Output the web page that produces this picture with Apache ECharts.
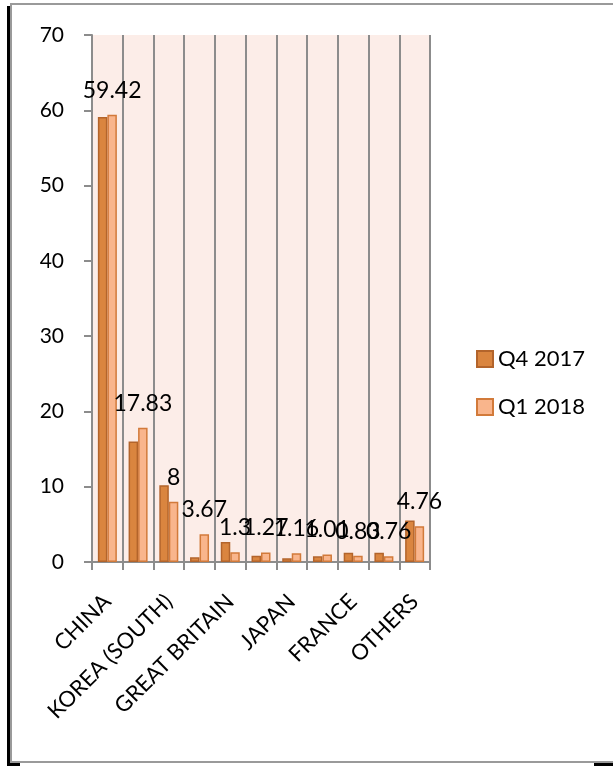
<!DOCTYPE html>
<html>
<head>
<meta charset="utf-8">
<script src="https://cdn.jsdelivr.net/npm/echarts@6/dist/echarts.min.js"></script>
<style>
  html, body { margin: 0; padding: 0; background: #ffffff; }
  #frame { position: absolute; left: 10px; top: 3px; width: 640px; height: 756px; border: 2px solid #9a9a9a; border-right: none; }
  #shadowL { position: absolute; left: 7px; top: 6px; width: 3px; height: 760px; background: #000; }
  #shadowB1 { position: absolute; left: 10px; top: 763px; width: 10px; height: 3px; background: #000; }
  #shadowB2 { position: absolute; left: 594px; top: 763px; width: 19px; height: 3px; background: #000; }
  #chart { position: absolute; left: 0; top: 0; width: 613px; height: 766px; }
</style>
</head>
<body>
<div id="frame"></div>
<div id="shadowL"></div>
<div id="shadowB1"></div>
<div id="shadowB2"></div>
<div id="chart"></div>
<script>
const categories = ['CHINA', 'CAT 2', 'KOREA (SOUTH)', 'CAT 4', 'GREAT BRITAIN', 'CAT 6', 'JAPAN', 'CAT 8', 'FRANCE', 'CAT 10', 'OTHERS'];
const seriesNames = ['Q4 2017', 'Q1 2018'];
const q4_2017 = [59.1, 16.0, 10.2, 0.62, 2.65, 0.84, 0.5, 0.75, 1.24, 1.24, 5.5];
const q1_2018 = [59.42, 17.83, 8, 3.67, 1.3, 1.27, 1.16, 1.01, 0.83, 0.76, 4.76];
const yTicks = { min: 0, max: 70, interval: 10 };

const FONT = 'Lato';
const gridGrey = '#8c8c8c';

const chart = echarts.init(document.getElementById('chart'), null, { renderer: 'canvas' });
chart.setOption({
  backgroundColor: 'transparent',
  animation: false,
  textStyle: { fontFamily: FONT },
  grid: {
    left: 92, right: 183, top: 35, bottom: 204,
    show: true, backgroundColor: '#fcede8', borderWidth: 0
  },
  legend: {
    orient: 'vertical',
    left: 476, top: 348,
    padding: 0,
    itemWidth: 16, itemHeight: 16, itemGap: 26,
    icon: 'rect',
    textStyle: { fontFamily: FONT, fontSize: 22, color: '#000' },
    data: seriesNames
  },
  xAxis: {
    type: 'category',
    data: categories,
    axisLine: { show: true, lineStyle: { color: gridGrey, width: 2 } },
    axisTick: { show: true, interval: 0, length: 8, lineStyle: { color: gridGrey, width: 2 } },
    splitLine: { show: true, interval: 0, lineStyle: { color: gridGrey, width: 2 } },
    axisLabel: { interval: 1, rotate: 45, margin: 36, fontFamily: FONT, fontSize: 22, color: '#000' }
  },
  yAxis: {
    type: 'value',
    min: yTicks.min, max: yTicks.max, interval: yTicks.interval,
    axisLine: { show: true, lineStyle: { color: gridGrey, width: 2 } },
    axisTick: { show: true, length: 8, lineStyle: { color: gridGrey, width: 2 } },
    splitLine: { show: false },
    axisLabel: { margin: 28, fontFamily: FONT, fontSize: 21, color: '#000' }
  },
  series: [
    {
      name: seriesNames[0], type: 'bar', data: q4_2017,
      barWidth: 9.5, barGap: '0%',
      itemStyle: { color: '#da853f', borderColor: '#b3642b', borderWidth: 1.5 }
    },
    {
      name: seriesNames[1], type: 'bar', data: q1_2018,
      barWidth: 9.5, barGap: '0%',
      itemStyle: { color: '#f9b58c', borderColor: '#d27a3a', borderWidth: 1.5 },
      label: { show: true, position: 'top', distance: 13, fontFamily: FONT, fontSize: 23, color: '#000' }
    }
  ]
});
</script>
</body>
</html>
